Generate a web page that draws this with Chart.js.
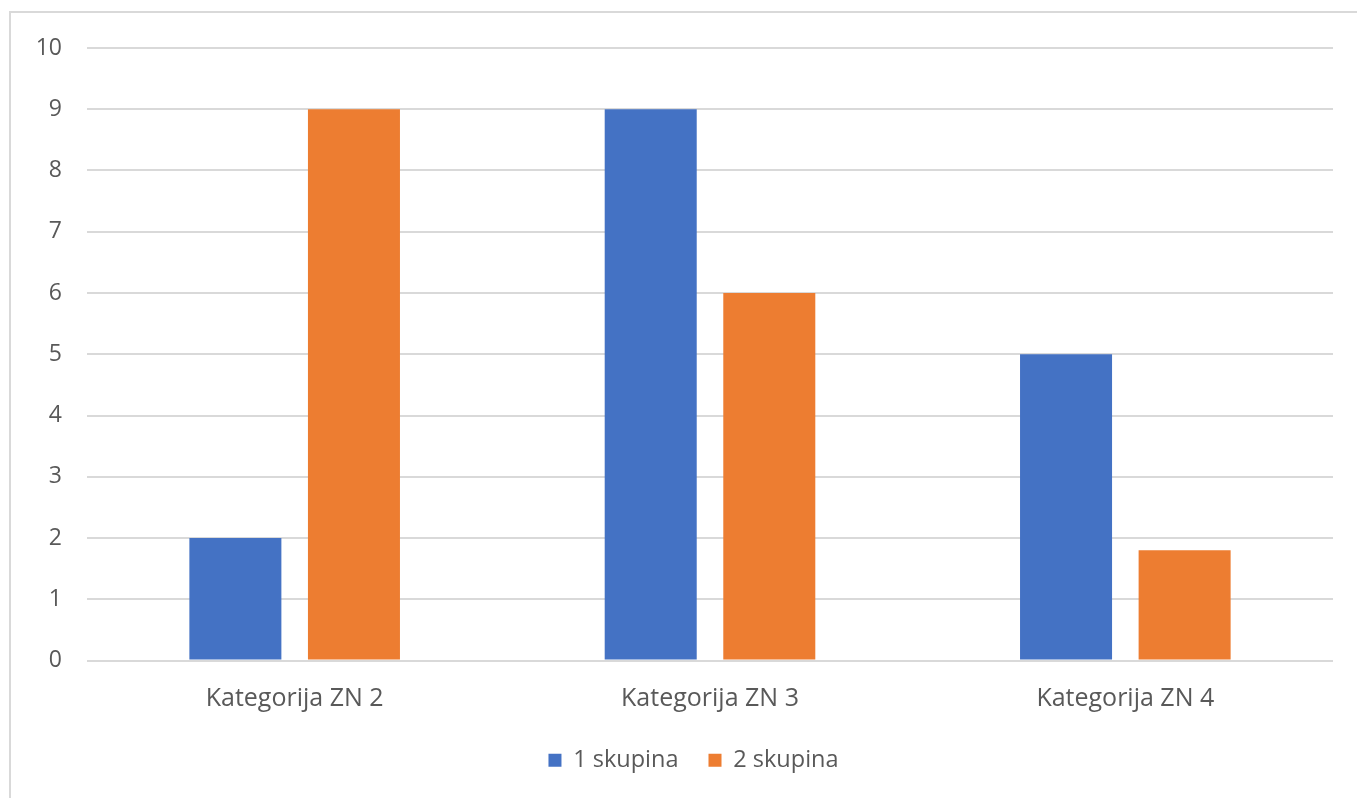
<!DOCTYPE html>
<html>
<head>
<meta charset="utf-8">
<script src="https://cdn.jsdelivr.net/npm/chart.js@4/dist/chart.umd.min.js"></script>
<style>
 body { margin:0; background:#fff; }
 #wrap { position:relative; width:1357px; height:798px; }
 #frame { position:absolute; left:9px; top:11px; width:1400px; height:900px;
          border-left:2px solid #d9d9d9; border-top:2px solid #d9d9d9; }
 #chart { position:absolute; left:0; top:0; }
</style>
</head>
<body>
<div id="wrap">
 <div id="frame"></div>
 <canvas id="chart"></canvas>
</div>
<script>
const categories = ['Kategorija ZN 2', 'Kategorija ZN 3', 'Kategorija ZN 4'];
const group1 = [2, 9, 5];
const group2 = [9, 6, 1.8];
const seriesNames = ['1 skupina', '2 skupina'];

const fontFam = "'Open Sans', 'Noto Sans', sans-serif";
const grey = '#595959';

// legend sits a bit right of the canvas centre
const legendShift = {
  id: 'legendShift',
  afterLayout(chart){
    chart.legend.left += 18;
    chart.legend.right += 18;
  }
};

let ctx = document.getElementById('chart');
ctx.width = 1357;
ctx.height = 798;

new Chart(ctx, {
  type: 'bar',
  data: {
    labels: categories,
    datasets: [{
      label: seriesNames[0],
      data: group1,
      backgroundColor: '#4472c4',
      categoryPercentage: 0.571,
      barPercentage: 0.776
    },
    {
      label: seriesNames[1],
      data: group2,
      backgroundColor: '#ed7d31',
      categoryPercentage: 0.571,
      barPercentage: 0.776
    }]
  },
  plugins: [legendShift],
  options: {
    responsive: false,
    maintainAspectRatio: false,
    animation: false,
    layout: {
      padding: { left: 18, right: 24, top: 48, bottom: 16 }
    },
    plugins: {
      legend: {
        position: 'bottom',
        labels: {
          boxWidth: 13,
          boxHeight: 13,
          padding: 30,
          color: grey,
          font: { family: fontFam, size: 23.5 }
        }
      },
      tooltip: { enabled: false }
    },
    scales: {
      x: {
        afterFit: function(scale){ scale.height = 58; },
        grid: { display: false },
        border: { display: false },
        ticks: {
          color: grey,
          padding: 15,
          font: { family: fontFam, size: 25 }
        }
      },
      y: {
        min: 0,
        max: 10,
        afterFit: function(scale){ scale.width = 69; },
        grid: { color: '#d9d9d9', lineWidth: 2, drawTicks: false },
        border: { display: false },
        ticks: {
          stepSize: 1,
          color: grey,
          padding: 25,
          font: { family: fontFam, size: 23 }
        }
      }
    }
  }
});
</script>
</body>
</html>
